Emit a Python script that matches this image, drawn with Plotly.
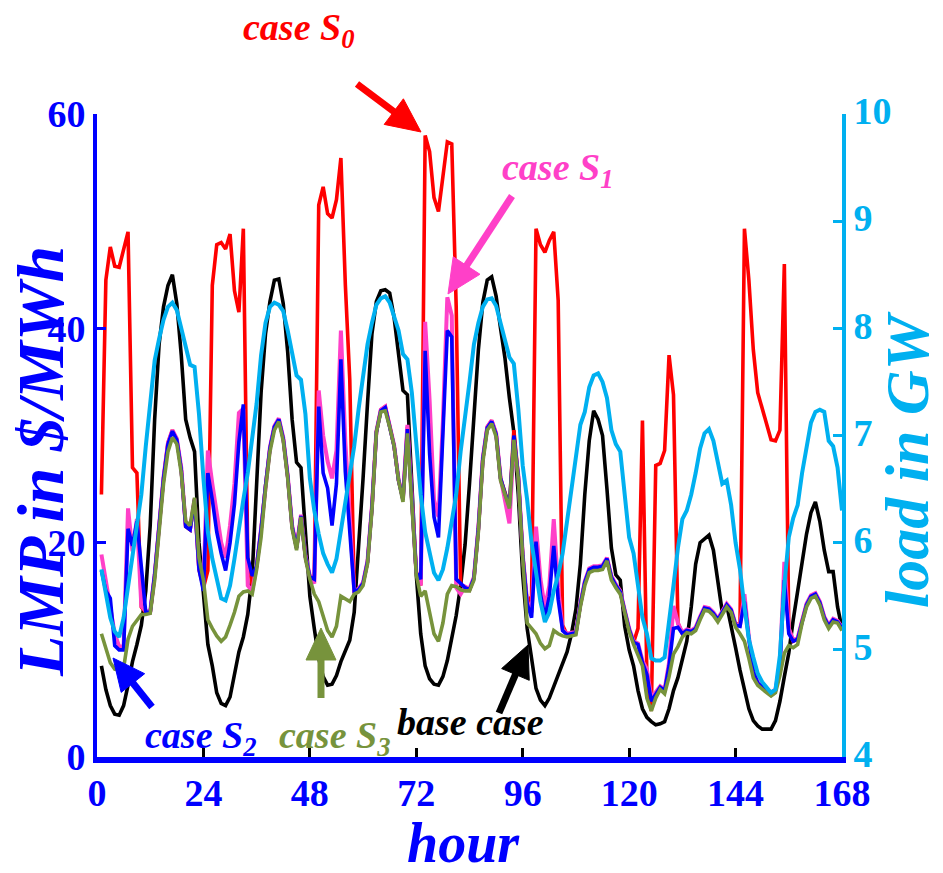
import math
import plotly.graph_objects as go

hours = list(range(1, 169))
x_ticks = [0, 24, 48, 72, 96, 120, 144, 168]
lmp_ticks = [0, 20, 40, 60]
load_ticks = [4, 5, 6, 7, 8, 9, 10]

# base case LMP ($/MWh)
base_case = [
    8.5, 6.3, 4.8, 4.0, 3.9, 4.8, 6.7, 8.9, 10.5, 12.3, 15.5, 21.6, 31.5, 38.5, 42.0, 44.0, 45.0, 42.3, 37.5, 31.5, 29.8, 28.5, 20.0, 15.0,
    10.5, 8.5, 6.0, 5.0, 4.8, 5.6, 7.8, 9.8, 11.2, 13.3, 17.0, 25.5, 34.0, 39.5, 42.5, 44.5, 44.6, 42.3, 37.8, 31.5, 27.5, 27.0, 20.5, 15.0,
    12.0, 9.2, 7.5, 6.7, 6.8, 7.6, 8.9, 10.0, 10.9, 13.5, 19.5, 26.0, 33.0, 39.5, 42.5, 43.5, 43.6, 43.3, 41.0, 37.5, 34.2, 33.8, 25.0, 17.0,
    11.5, 8.5, 7.3, 6.8, 6.7, 7.5, 9.0, 11.2, 13.2, 16.0, 19.8, 25.5, 31.5, 38.0, 42.4, 44.5, 44.8, 43.0, 40.0, 37.2, 33.5, 30.3, 24.5, 17.0,
    12.0, 9.0, 6.4, 5.3, 4.8, 5.5, 6.6, 7.6, 8.7, 9.8, 11.5, 13.8, 18.0, 24.5, 29.5, 32.3, 31.5, 30.0, 25.0, 19.5, 17.0, 16.5, 12.2, 10.0,
    8.5, 6.2, 4.5, 3.7, 3.3, 3.0, 3.1, 3.3, 4.5, 6.2, 7.4, 9.0, 10.8, 14.0, 18.0, 20.0, 20.4, 20.7, 19.3, 16.2, 13.5, 14.2, 12.0, 10.2,
    8.1, 6.3, 4.5, 3.4, 2.9, 2.6, 2.6, 2.6, 3.4, 5.2, 7.5, 9.7, 12.8, 15.5, 18.3, 20.8, 22.8, 23.8, 22.0, 19.3, 17.3, 17.3, 14.0, 12.0,
]

# case S0 LMP
case_s0 = [
    24.5, 44.5, 47.6, 45.8, 45.7, 47.3, 49.0, 27.0, 26.5, 14.0, 13.5, 13.5, 16.9, 21.5, 26.0, 29.3, 30.5, 29.6, 26.8, 21.5, 21.2, 24.0, 17.5, 15.8,
    17.4, 44.0, 47.8, 48.0, 47.4, 48.8, 43.5, 41.5, 49.3, 18.6, 16.0, 17.8, 21.2, 25.3, 28.8, 30.8, 31.5, 29.7, 26.2, 21.5, 19.5, 22.5, 18.7, 16.8,
    16.8, 51.5, 53.2, 50.7, 50.3, 52.0, 55.9, 44.1, 35.2, 15.5, 15.6, 16.2, 18.2, 23.3, 30.3, 32.4, 32.7, 30.9, 29.0, 25.8, 24.1, 30.8, 24.2, 17.2,
    16.0, 58.0, 56.5, 52.2, 50.9, 54.0, 57.4, 57.2, 42.0, 16.1, 15.8, 15.6, 16.7, 21.3, 27.8, 30.8, 31.4, 30.2, 26.0, 24.6, 23.4, 30.5, 26.2, 18.8,
    14.3, 15.0, 49.3, 47.8, 47.1, 48.2, 49.0, 42.6, 12.3, 11.4, 11.5, 11.6, 14.2, 16.3, 17.5, 17.7, 17.7, 17.8, 18.5, 16.8, 16.0, 15.4, 13.6, 11.9,
    10.7, 12.0, 31.4, 7.5, 4.3, 27.2, 27.4, 28.6, 37.5, 33.8, 12.5, 11.5, 11.8, 11.7, 12.0, 13.0, 13.9, 13.8, 13.4, 12.8, 13.5, 14.2, 13.7, 12.3,
    12.5, 49.3, 44.5, 38.0, 34.0, 32.5, 31.0, 29.6, 29.5, 30.5, 46.0, 12.0, 10.8, 11.0, 12.7, 14.2, 15.0, 15.2, 14.4, 13.0, 12.2, 12.8, 12.6, 12.0,
]

# case S1 LMP
case_s1 = [
    18.9, 16.5, 14.1, 11.5, 10.3, 10.3, 23.2, 19.2, 22.2, 14.1, 13.6, 13.6, 17.0, 21.6, 26.1, 29.3, 30.5, 29.7, 27.0, 21.6, 21.3, 24.1, 17.6, 16.0,
    28.6, 25.5, 22.5, 20.0, 18.6, 21.6, 25.5, 32.1, 32.5, 16.0, 15.5, 17.8, 21.3, 25.4, 28.9, 30.9, 31.6, 29.8, 26.3, 21.6, 19.6, 22.6, 18.8, 16.9,
    16.2, 34.2, 30.0, 27.6, 26.0, 28.6, 39.8, 29.4, 21.6, 15.5, 15.7, 16.3, 18.3, 23.4, 30.4, 32.4, 32.7, 30.9, 29.1, 25.9, 24.1, 31.0, 24.3, 17.3,
    16.0, 40.6, 33.3, 24.0, 22.4, 31.3, 42.9, 41.2, 15.8, 15.2, 15.9, 15.7, 16.8, 21.4, 27.9, 30.8, 31.4, 30.2, 26.1, 24.0, 21.8, 29.5, 26.3, 18.9,
    14.5, 13.5, 21.5, 16.6, 13.9, 16.0, 22.2, 15.8, 11.9, 11.5, 11.6, 11.7, 14.3, 16.4, 17.6, 17.8, 17.8, 17.9, 18.6, 16.9, 16.1, 15.5, 13.7, 12.0,
    10.8, 10.6, 9.0, 8.2, 5.5, 6.0, 6.6, 6.3, 8.8, 14.1, 12.5, 11.6, 11.9, 11.8, 12.1, 13.1, 14.0, 13.9, 13.5, 12.9, 13.6, 14.3, 13.8, 12.4,
    12.3, 15.2, 11.2, 8.1, 7.0, 6.6, 6.3, 6.0, 6.3, 8.7, 18.2, 12.0, 10.9, 11.1, 12.8, 14.3, 15.1, 15.3, 14.5, 13.1, 12.3, 12.9, 12.7, 12.1,
]

# case S2 LMP
case_s2 = [
    17.4, 15.5, 14.8, 10.4, 10.0, 10.0, 21.3, 19.7, 22.0, 18.0, 13.5, 13.5, 17.0, 21.5, 26.0, 29.2, 30.4, 29.6, 26.8, 21.5, 21.2, 24.0, 17.5, 15.5,
    26.5, 24.0, 21.0, 19.0, 17.4, 20.0, 23.6, 29.4, 32.9, 18.6, 16.9, 17.8, 21.2, 25.3, 28.8, 30.8, 31.5, 29.7, 26.2, 21.5, 19.5, 22.5, 18.7, 16.8,
    16.6, 32.7, 26.5, 25.1, 21.6, 25.5, 37.1, 26.6, 21.3, 15.5, 15.6, 16.2, 18.2, 23.3, 30.3, 32.3, 32.6, 30.8, 29.0, 25.8, 24.0, 30.6, 24.2, 17.2,
    16.6, 37.9, 28.3, 22.4, 20.5, 29.4, 39.8, 39.2, 16.6, 16.2, 15.8, 15.6, 16.7, 21.3, 27.8, 30.7, 31.3, 30.1, 26.0, 24.6, 23.4, 30.0, 26.2, 18.8,
    14.3, 13.0, 20.1, 15.2, 13.0, 15.0, 19.7, 14.7, 11.8, 11.4, 11.5, 11.6, 14.2, 16.3, 17.5, 17.7, 17.7, 17.8, 18.5, 16.8, 16.0, 15.4, 13.6, 11.9,
    10.7, 10.5, 8.8, 7.7, 5.2, 5.9, 6.5, 6.2, 8.5, 12.0, 12.1, 11.5, 11.8, 11.7, 12.0, 13.0, 13.9, 13.8, 13.4, 12.8, 13.5, 14.2, 13.7, 12.3,
    12.2, 14.5, 11.0, 8.0, 6.9, 6.5, 6.2, 5.9, 6.2, 8.5, 16.5, 11.5, 10.8, 11.0, 12.7, 14.2, 15.0, 15.2, 14.4, 13.0, 12.2, 12.8, 12.6, 12.0,
]

# case S3 LMP
case_s3 = [
    11.5, 10.2, 8.8, 8.2, 8.1, 8.3, 11.0, 12.2, 12.8, 13.3, 13.3, 13.4, 16.5, 21.0, 25.5, 28.5, 29.8, 29.2, 26.5, 22.0, 21.6, 24.2, 18.6, 16.5,
    12.8, 12.0, 11.3, 10.8, 11.2, 12.3, 13.5, 15.0, 15.4, 15.5, 15.2, 17.5, 20.5, 25.0, 28.5, 30.5, 31.3, 29.5, 26.0, 21.3, 19.3, 22.4, 18.5, 16.6,
    15.2, 14.5, 13.2, 11.8, 11.2, 12.2, 15.0, 14.7, 14.5, 15.2, 15.4, 16.0, 18.0, 23.0, 30.3, 32.2, 32.3, 30.8, 29.0, 25.8, 23.8, 30.2, 24.0, 17.0,
    15.0, 15.5, 13.5, 11.5, 10.8, 12.5, 15.2, 16.0, 15.9, 15.6, 15.5, 15.5, 16.5, 21.0, 27.5, 30.5, 31.1, 29.9, 25.8, 24.6, 23.2, 29.6, 26.0, 18.6,
    12.5, 12.0, 11.5, 10.6, 10.1, 10.4, 11.8, 11.5, 11.3, 11.2, 11.3, 11.4, 14.0, 16.0, 17.2, 17.4, 17.4, 17.5, 18.3, 16.5, 15.8, 15.2, 13.5, 11.7,
    10.5, 9.6, 8.5, 5.5, 4.3, 5.5, 6.3, 5.9, 7.5, 9.6, 10.3, 11.2, 11.6, 11.5, 11.8, 12.8, 13.7, 13.6, 13.2, 12.6, 13.3, 14.0, 13.5, 12.1,
    11.5, 10.8, 9.2, 7.4, 6.7, 6.3, 6.0, 5.7, 6.0, 7.6, 9.7, 10.4, 10.2, 10.5, 12.5, 14.0, 14.8, 15.0, 14.2, 12.8, 12.0, 12.6, 12.5, 11.8,
]

# system load (GW)
load_gw = [
    5.75, 5.5, 5.3, 5.17, 5.12, 5.3, 5.6, 5.9, 6.15, 6.45, 6.9, 7.35, 7.7, 7.9, 8.08, 8.2, 8.24, 8.17, 8.0, 7.82, 7.66, 7.64, 7.2, 6.6,
    6.1, 5.85, 5.65, 5.48, 5.46, 5.6, 5.85, 6.15, 6.4, 6.65, 6.95, 7.3, 7.75, 8.05, 8.2, 8.24, 8.22, 8.16, 7.98, 7.78, 7.56, 7.52, 7.2, 6.6,
    6.3, 6.08, 5.9, 5.8, 5.72, 5.85, 6.1, 6.35, 6.6, 6.9, 7.25, 7.58, 7.85, 8.05, 8.22, 8.28, 8.3, 8.24, 8.12, 7.98, 7.76, 7.71, 7.4, 6.9,
    6.45, 6.1, 5.9, 5.72, 5.65, 5.75, 5.95, 6.2, 6.45, 6.85, 7.15, 7.5, 7.85, 8.05, 8.2, 8.27, 8.28, 8.21, 8.05, 7.9, 7.73, 7.67, 7.25, 6.72,
    6.4, 6.0, 5.7, 5.45, 5.26, 5.35, 5.55, 5.7, 5.9, 6.2, 6.5, 6.85, 7.1, 7.22, 7.45, 7.56, 7.58, 7.5, 7.35, 7.05, 6.92, 6.85, 6.4, 6.05,
    5.9, 5.6, 5.3, 5.15, 4.92, 4.9, 4.9, 4.93, 5.3, 5.6, 5.95, 6.22, 6.3, 6.45, 6.65, 6.88, 7.02, 7.06, 6.95, 6.75, 6.55, 6.58, 6.35, 6.0,
    5.75, 5.4, 5.1, 4.93, 4.78, 4.7, 4.65, 4.6, 4.63, 4.95, 5.6, 6.05, 6.23, 6.35, 6.65, 6.9, 7.12, 7.22, 7.24, 7.22, 6.95, 6.9, 6.7, 6.3,
]

FONT = "Liberation Serif"
BLUE = "#0000FF"
LBLUE = "#00B0F0"
RED = "#FF0000"
MAGENTA = "#FF40C8"
OLIVE = "#77933C"

W, H = 943, 873
ML, MR, MT, MB = 97, 101, 114, 116
PW, PH = W - ML - MR, H - MT - MB

fig = go.Figure()
fig.add_trace(go.Scatter(x=hours, y=base_case, mode="lines", line=dict(color="black", width=3.6), name="base case"))
fig.add_trace(go.Scatter(x=hours, y=case_s0, mode="lines", line=dict(color=RED, width=3.6), name="case S0"))
fig.add_trace(go.Scatter(x=hours, y=case_s1, mode="lines", line=dict(color=MAGENTA, width=4.0), name="case S1"))
fig.add_trace(go.Scatter(x=hours, y=case_s2, mode="lines", line=dict(color=BLUE, width=3.6), name="case S2"))
fig.add_trace(go.Scatter(x=hours, y=case_s3, mode="lines", line=dict(color=OLIVE, width=3.6), name="case S3"))
fig.add_trace(go.Scatter(x=hours, y=load_gw, mode="lines", line=dict(color=LBLUE, width=4.0), name="load", yaxis="y2"))

def tickfont(c):
    return dict(family=FONT, size=38, color=c, weight="bold")

fig.update_layout(
    width=W, height=H,
    margin=dict(l=ML, r=MR, t=MT, b=MB),
    paper_bgcolor="white", plot_bgcolor="white",
    showlegend=False,
    xaxis=dict(range=[0, 168], tickvals=x_ticks, ticks="inside", ticklen=9, tickwidth=3, tickcolor="black",
               showline=True, linecolor=BLUE, linewidth=6, showgrid=False, zeroline=False,
               ticklabelstandoff=-3, tickfont=tickfont(BLUE)),
    yaxis=dict(range=[0, 60], tickvals=lmp_ticks, ticks="inside", ticklen=9, tickwidth=3, tickcolor=BLUE,
               showline=True, linecolor=BLUE, linewidth=4, showgrid=False, zeroline=False,
               tickfont=tickfont(BLUE)),
    yaxis2=dict(range=[4, 10], tickvals=load_ticks, ticks="inside", ticklen=9, tickwidth=3, tickcolor=LBLUE,
                showline=True, linecolor=LBLUE, linewidth=4, showgrid=False, zeroline=False,
                ticklabelshift=-3,
                overlaying="y", side="right", tickfont=tickfont(LBLUE)),
)

def px2paper(px, py):
    return (px - ML) / PW, (H - MB - py) / PH

def label(text, px, py, color, size=38):
    x, y = px2paper(px, py)
    fig.add_annotation(x=x, y=y, xref="paper", yref="paper", text=text, showarrow=False,
                       xanchor="center", yanchor="middle",
                       font=dict(family=FONT, size=size, color=color, weight="bold", style="italic"))

def arrow(tail, tip, color, head_len=34, head_w=32, shaft=7):
    dx, dy = tip[0] - tail[0], tip[1] - tail[1]
    n = math.hypot(dx, dy)
    ux, uy = dx / n, dy / n
    bx, by = tip[0] - ux * head_len, tip[1] - uy * head_len
    px_, py_ = -uy, ux
    x0, y0 = px2paper(*tail)
    x1, y1 = px2paper(bx + ux * 2, by + uy * 2)
    fig.add_shape(type="line", xref="paper", yref="paper", x0=x0, y0=y0, x1=x1, y1=y1,
                  line=dict(color=color, width=shaft))
    pts = [tip, (bx + px_ * head_w / 2, by + py_ * head_w / 2), (bx - px_ * head_w / 2, by - py_ * head_w / 2)]
    pp = [px2paper(*p) for p in pts]
    path = "M {:.5f},{:.5f} L {:.5f},{:.5f} L {:.5f},{:.5f} Z".format(pp[0][0], pp[0][1], pp[1][0], pp[1][1], pp[2][0], pp[2][1])
    fig.add_shape(type="path", xref="paper", yref="paper", path=path,
                  fillcolor=color, line=dict(color=color, width=1))

label("case S<sub>0</sub>", 298, 30, RED)
label("case S<sub>1</sub>", 557, 170, MAGENTA)
label("case S<sub>2</sub>", 200, 738, BLUE)
label("case S<sub>3</sub>", 334, 738, OLIVE)
label("base case", 470, 722, "black")

arrow((357, 84), (421, 132), RED)
arrow((512, 196), (448, 294), MAGENTA)
arrow((152, 707), (113, 658), BLUE, head_len=32, head_w=30)
arrow((321, 698), (321, 628), OLIVE, head_len=32, head_w=30)
arrow((499, 713), (528, 645), "black", head_len=32, head_w=30)

lx, ly = px2paper(40, 462)
fig.add_annotation(x=lx, y=ly, xref="paper", yref="paper", text="LMP in $/MWh", textangle=-90,
                   showarrow=False, xanchor="center", yanchor="middle",
                   font=dict(family=FONT, size=66, color=BLUE, weight="bold", style="italic"))
rx, ry = px2paper(907, 460)
fig.add_annotation(x=rx, y=ry, xref="paper", yref="paper", text="load in GW", textangle=-90,
                   showarrow=False, xanchor="center", yanchor="middle",
                   font=dict(family=FONT, size=62, color=LBLUE, weight="bold", style="italic"))
hx, hy = px2paper(463, 843)
fig.add_annotation(x=hx, y=hy, xref="paper", yref="paper", text="hour",
                   showarrow=False, xanchor="center", yanchor="middle",
                   font=dict(family=FONT, size=56, color=BLUE, weight="bold", style="italic"))

fig.write_html("out.html")
